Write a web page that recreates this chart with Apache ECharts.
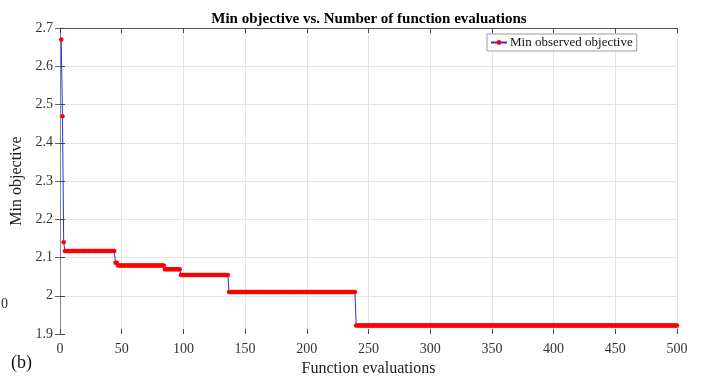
<!DOCTYPE html>
<html>
<head>
<meta charset="utf-8">
<script src="https://cdn.jsdelivr.net/npm/echarts@6/dist/echarts.min.js"></script>
<style>
  html, body { margin: 0; padding: 0; background: #fff; }
  #chart { width: 718px; height: 377px; }
</style>
</head>
<body>
<div id="chart"></div>
<script>
// Function evaluation at which the best observed objective improves, and the new best value
const evaluationCount = 500;
const improvementAt = [1, 2, 3, 4, 45, 47, 85, 98, 137, 240];
const bestObjective = [2.670, 2.469, 2.140, 2.117, 2.086, 2.079, 2.069, 2.054, 2.010, 1.922];

// Axis ticks
const xTicks = [0, 50, 100, 150, 200, 250, 300, 350, 400, 450, 500];
const yTicks = [1.9, 2.0, 2.1, 2.2, 2.3, 2.4, 2.5, 2.6, 2.7];

// Running minimum: each evaluation keeps the best value found so far
const series = [];
let k = 0;
for (let n = 1; n <= evaluationCount; n++) {
  while (k + 1 < improvementAt.length && improvementAt[k + 1] <= n) k++;
  series.push([n, bestObjective[k]]);
}

const serif = '"Liberation Serif", "Times New Roman", serif';
const chart = echarts.init(document.getElementById('chart'), null, { renderer: 'canvas' });

chart.setOption({
  animation: false,
  backgroundColor: '#ffffff',
  title: {
    text: 'Min objective vs. Number of function evaluations',
    left: 364, top: 7, textAlign: 'center',
    textStyle: { fontFamily: serif, fontWeight: 'bold', fontSize: 15, color: '#000' }
  },
  legend: {
    data: ['Min observed objective'],
    left: 487, top: 34,
    padding: [2, 4, 2, 3],
    itemWidth: 16, itemHeight: 6, itemGap: 3,
    borderColor: '#9a9a9a', borderWidth: 1,
    backgroundColor: '#fff',
    textStyle: { fontFamily: serif, fontSize: 13, color: '#111', padding: [0, 0, 0, -2] }
  },
  grid: { left: 60, right: 41, top: 28, bottom: 43, containLabel: false, outerBoundsMode: 'none' },
  xAxis: [{
    type: 'value', min: 0, max: 500, interval: 50,
    name: 'Function evaluations', nameLocation: 'middle', nameGap: 26,
    nameTextStyle: { fontFamily: serif, fontSize: 16, color: '#222' },
    axisLine: { show: false },
    axisTick: { show: true, inside: true, length: 5, lineStyle: { color: '#444' } },
    axisLabel: { margin: 8, fontFamily: serif, fontSize: 14, color: '#333',
      customValues: xTicks },
    splitLine: { show: true, lineStyle: { color: '#e4e4e4', width: 1 } }
  }, {
    type: 'value', position: 'top', min: 0, max: 500, interval: 50,
    axisLine: { show: true, lineStyle: { color: '#555', width: 1 } },
    axisTick: { show: true, inside: true, length: 5, lineStyle: { color: '#444' } },
    axisLabel: { show: false },
    splitLine: { show: false }
  }],
  yAxis: [{
    type: 'value', min: 1.9, max: 2.7, interval: 0.1,
    name: 'Min objective', nameLocation: 'middle', nameGap: 31, nameRotate: 90,
    nameTextStyle: { fontFamily: serif, fontSize: 16, color: '#222' },
    axisLine: { show: false },
    axisTick: { show: true, inside: true, length: 5, lineStyle: { color: '#444' } },
    axisLabel: { margin: 7, fontFamily: serif, fontSize: 14, color: '#333',
      formatter: v => String(Math.round(v * 10) / 10) },
    splitLine: { show: true, showMinLine: false, lineStyle: { color: '#e4e4e4', width: 1 } }
  }, {
    type: 'value', position: 'right', min: 1.9, max: 2.7, interval: 0.1,
    axisLine: { show: true, lineStyle: { color: '#888', width: 1 } },
    axisTick: { show: true, inside: true, length: 5, lineStyle: { color: '#666' } },
    axisLabel: { show: false },
    splitLine: { show: false }
  }],
  graphic: [
    { type: 'text', left: 1, top: 297, style: { text: '0', font: '14px ' + serif, fill: '#333' } },
    { type: 'text', left: 11, top: 354, style: { text: '(b)', font: '18px ' + serif, fill: '#111' } }
  ],
  series: [{
    name: 'Min observed objective',
    type: 'line',
    step: 'end',
    data: series,
    showSymbol: true,
    showAllSymbol: true,
    symbol: 'circle',
    symbolSize: 4.5,
    itemStyle: { color: '#ff0000' },
    lineStyle: { color: '#2233ee', width: 1 },
    z: 3
  }]
});
</script>
</body>
</html>
